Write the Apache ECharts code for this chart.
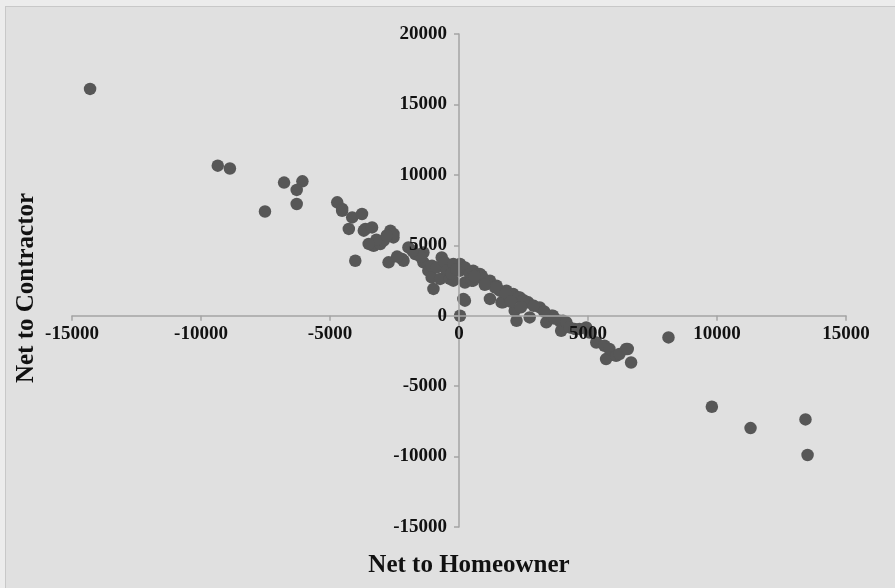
<!DOCTYPE html>
<html>
<head>
<meta charset="utf-8">
<script src="https://cdn.jsdelivr.net/npm/echarts@6/dist/echarts.min.js"></script>
<style>
  html, body { margin: 0; padding: 0; width: 895px; height: 588px; overflow: hidden; background: #ececec; }
  #frame { position: absolute; left: 5px; top: 6px; width: 900px; height: 600px; background: #e0e0e0; border-left: 1px solid #c8c8c8; border-top: 1px solid #c8c8c8; }
  #chart { position: absolute; left: 0; top: 0; width: 895px; height: 588px; }
</style>
</head>
<body>
<div id="frame"></div>
<div id="chart"></div>
<script>
// Net to Homeowner (x) values
const netToHomeowner = [
  -14300, -9350, -8880, -7520, -6780, -6070, -6290, -6290,
  -4720, -4530, -4530, -4140, -3760, -4270, -3690, -3630, -3370,
  -3310, -3050, -2920, -2660, -2540, -2540, -4020, -2730, -2150,
  -1960, -1700, -1380, -2210, -1380, -1190, -1050, -990, -1060,
  -860, -730, -670, -560, -480, -350, -220, -220, 40, 40, 40,
  230, 230, 230, 170, 425, 490, 550, 550, 810, 880, 940, 1130, 1200, 1200,
  1455, 1580, 1650, 1710, 1840, 2100, 2160, 2230, 2355, 2610, 2680, 2740,
  3130, 3385, 3580, 3640, 3900, 3960, 4030, 4160, 4290, 4480, 4670, 4930,
  5060, 5320, 5640, 5700, 5830, 6090, 6220, 6480, 6540, 6670,
  8120, 9800, 11300, 13430, 13510,
  1400, 1800, 2300, 2500, 2900, 3300, 1000, -300, -100, 600, 2000, 3700,
  2400, -1500, -1800, -2400, -3200, -2800, -3500
];
// Net to Contractor (y) values
const netToContractor = [
  16100, 10650, 10450, 7400, 9450, 9540, 8930, 7930,
  8050, 7580, 7450, 6980, 7220, 6160, 6040, 6160, 6270,
  4970, 5090, 5330, 6040, 5560, 5800, 3900, 3790, 3900,
  4850, 4380, 4490, 4030, 3790, 3200, 3550, 1900, 2720,
  3430, 2610, 4140, 3800, 3200, 2610, 3670, 2490, 3670, 3200, 0,
  3430, 2360, 1070, 1190, 2960, 2490, 3200, 2490, 2960, 2840, 2610, 2360, 2490, 1190,
  2130, 1780, 950, 950, 1780, 1540, 360, -360, 1300, 950, 950, -120,
  590, -470, 0, 0, -360, -1070, -360, -470, -830, -940, -940, -830,
  -1190, -1900, -2130, -3080, -2360, -2840, -2720, -2360, -2360, -3320,
  -1540, -6460, -7980, -7360, -9890,
  2000, 1600, 1300, 1100, 700, 300, 2200, 3000, 3300, 2800, 1000, -200,
  600, 4200, 4600, 4200, 5400, 5700, 5100
];
const xTicks = { min: -15000, max: 15000, step: 5000 };
const yTicks = { min: -15000, max: 20000, step: 5000 };
const xTitle = 'Net to Homeowner';
const yTitle = 'Net to Contractor';

const points = netToHomeowner.map((x, i) => [x, netToContractor[i]]);
const serif = '"Liberation Serif", "DejaVu Serif", serif';

const W = 895, H = 588;
const grid = { left: 72, right: 49, top: 34, bottom: 61 };
const plotW = W - grid.left - grid.right;
const plotH = H - grid.top - grid.bottom;
// shift the axes so they cross at zero (labels travel with them)
const xAxisOffset = -plotH * (0 - yTicks.min) / (yTicks.max - yTicks.min);
const yAxisOffset = -plotW * (0 - xTicks.min) / (xTicks.max - xTicks.min);

const chart = echarts.init(document.getElementById('chart'), null, { renderer: 'canvas' });
const lineCol = '#a4a4a4';
chart.setOption({
  backgroundColor: 'transparent',
  animation: false,
  grid: Object.assign({ containLabel: false }, grid),
  xAxis: {
    type: 'value', min: xTicks.min, max: xTicks.max, interval: xTicks.step,
    position: 'bottom', offset: xAxisOffset, z: 5,
    axisLine: { onZero: false, lineStyle: { color: lineCol, width: 1.5 } },
    axisTick: { show: true, length: 5, lineStyle: { color: lineCol, width: 1.5 } },
    axisLabel: { color: '#111', fontFamily: serif, fontWeight: 'bold', fontSize: 19, margin: 9, formatter: v => String(v) },
    splitLine: { show: false }
  },
  yAxis: {
    type: 'value', min: yTicks.min, max: yTicks.max, interval: yTicks.step,
    position: 'left', offset: yAxisOffset, z: 5,
    axisLine: { onZero: false, lineStyle: { color: lineCol, width: 1.5 } },
    axisTick: { show: true, length: 5, lineStyle: { color: lineCol, width: 1.5 } },
    axisLabel: { color: '#111', fontFamily: serif, fontWeight: 'bold', fontSize: 19, margin: 12, formatter: v => String(v) },
    splitLine: { show: false }
  },
  graphic: [
    { type: 'text', x: 469, y: 566, style: { text: xTitle, fill: '#111', font: 'bold 25px ' + serif, align: 'center', verticalAlign: 'middle' } },
    { type: 'text', x: 27, y: 288, rotation: Math.PI / 2, style: { text: yTitle, fill: '#111', font: 'bold 25px ' + serif, align: 'center', verticalAlign: 'middle' } }
  ],
  series: [{
    type: 'scatter',
    z: 2,
    data: points,
    symbolSize: 12.5,
    itemStyle: { color: '#575757', opacity: 1 }
  }]
});
</script>
</body>
</html>
